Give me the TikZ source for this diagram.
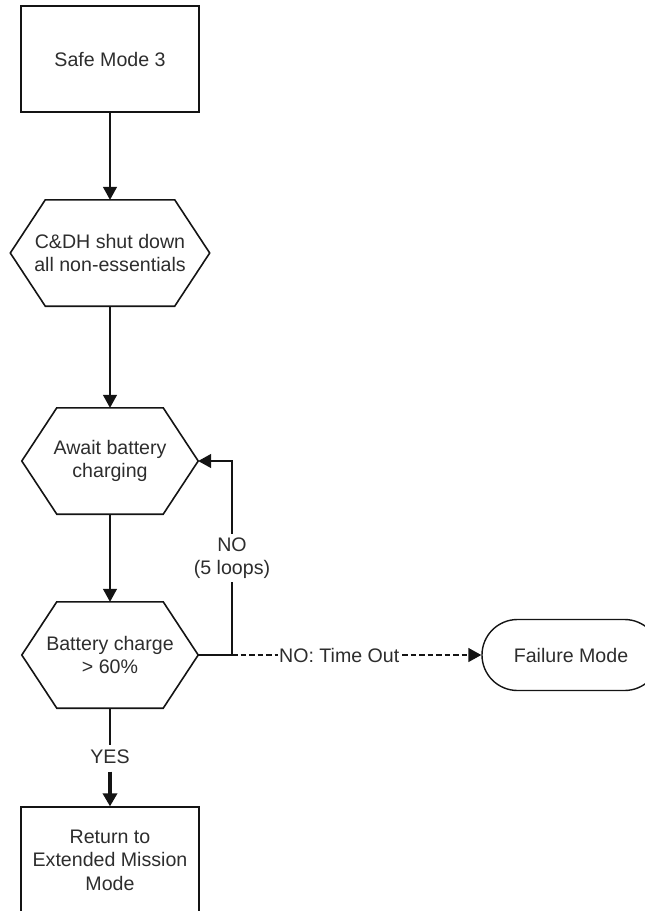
\documentclass[tikz,border=0pt]{standalone}
\usepackage{fontspec}
\setmainfont{Liberation Sans}
\usetikzlibrary{arrows.meta,positioning,shapes.misc}
\definecolor{ink}{RGB}{20,20,20}
\definecolor{textgray}{RGB}{45,45,45}
\tikzset{
  every node/.style={font=\fontsize{19.6}{23.5}\selectfont, text=textgray},
  plain/.style={draw=ink, align=center, minimum width=178pt, minimum height=106pt, inner sep=0pt},
  hexa/.style={align=center, minimum width=#1, minimum height=106pt, inner sep=0pt,
    append after command={\pgfextra{\draw[draw=ink, line width=1.6pt, line join=miter]
      (\tikzlastnode.west) -- ([xshift=35pt]\tikzlastnode.north west)
      -- ([xshift=-35pt]\tikzlastnode.north east) -- (\tikzlastnode.east)
      -- ([xshift=-35pt]\tikzlastnode.south east)
      -- ([xshift=35pt]\tikzlastnode.south west) -- cycle;}}},
  stadium/.style={draw=ink, rounded rectangle, line width=1.4pt, minimum width=178pt,
    minimum height=71pt, inner sep=0pt},
  link/.style={draw=ink, line width=1.4pt},
  arrow/.style={link, -{Triangle[length=13pt,width=14pt]}},
  tag/.style={fill=white, inner sep=2pt, align=center}
}
\begin{document}
\begin{tikzpicture}[x=1pt, y=-1pt]
  \useasboundingbox (0,0) rectangle (645,911);
  \node[plain, line width=2.4pt] (safe) at (110,59) {Safe Mode 3};
  \node[hexa=199pt] (shutdown) at (110,253) {C\&DH shut down\\all non-essentials};
  \node[hexa=176pt] (await) at (110,461) {Await battery\\charging};
  \node[hexa=176pt] (charge) at (110,655) {Battery charge\\> 60\%};
  \node[tag, inner ysep=4.5pt] (yes) at (110,757) {YES};
  \node[plain, line width=1.2pt] (return) at (110,860) {Return to\\Extended Mission\\Mode};
  \node[stadium] (failure) at (571,655) {Failure Mode};
  \coordinate (fork) at (232,655);

  \draw[arrow] (safe.south) -- (shutdown.north);
  \draw[arrow] (shutdown.south) -- (await.north);
  \draw[arrow] (await.south) -- (charge.north);
  % retry loop and time out
  \draw[link] (charge.east) -- (fork);
  \draw[arrow] (fork) |- node[tag, pos=0.25, inner sep=3pt] {NO\\(5 loops)} (await.east);
  \draw[arrow, dash pattern=on 5.5pt off 3pt] (fork) -- node[tag, pos=0.43, inner xsep=1pt] {NO: Time Out} (failure.west);
  % success
  \draw[link] (charge.south) -- (yes.north);
  \draw[arrow, line width=3.5pt, shorten <=3pt] (yes.south) -- (return.north);
\end{tikzpicture}
\end{document}
